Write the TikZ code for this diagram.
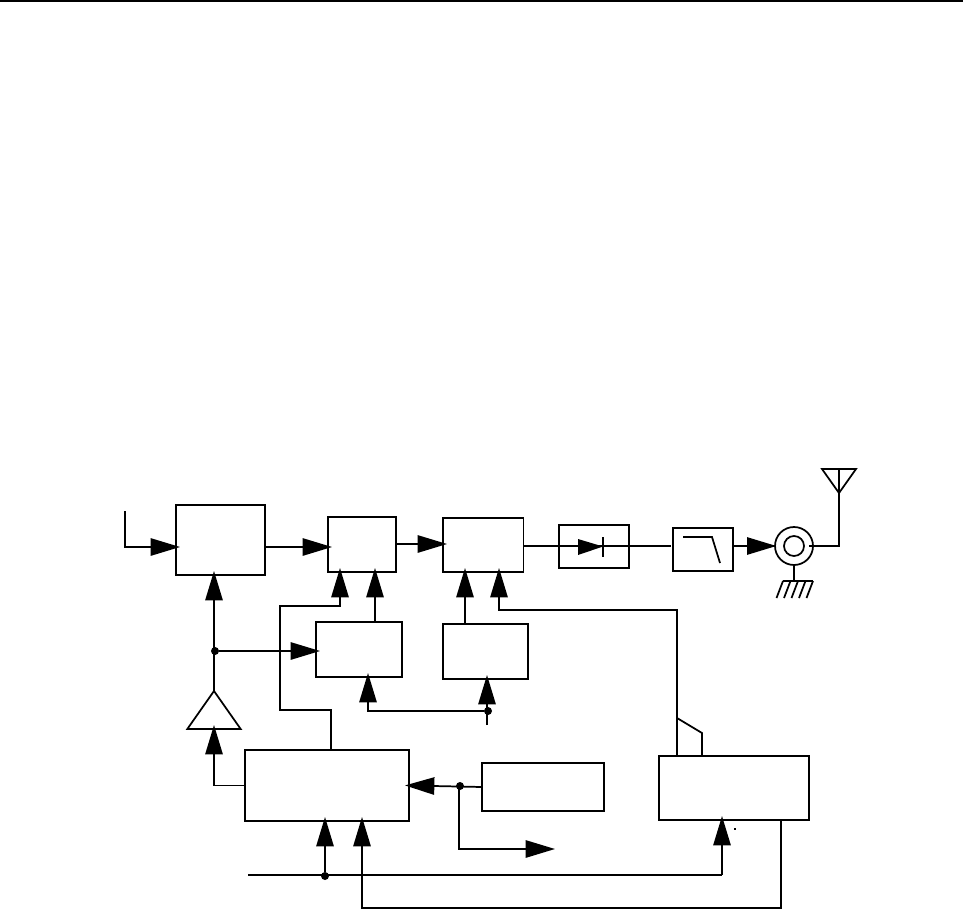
\documentclass[tikz,border=0pt]{standalone}
\usetikzlibrary{arrows.meta,calc,shapes.geometric}

\tikzset{
  blk/.style 2 args={draw,line width=1.3pt,inner sep=0pt,outer sep=0pt,minimum width=#1*.75pt,minimum height=#2*.75pt},
  sig/.style={line width=1.3pt,-{Triangle[length=22pt,width=13pt]},shorten >=-3pt},
  wire/.style={line width=1.3pt},
  jct/.style={circle,fill=black,inner sep=0pt,minimum size=6pt}
}

\begin{document}
\begin{tikzpicture}[x=.75pt,y=-.75pt]
\useasboundingbox (0,0) rectangle (963,909);
\draw[wire] (0,1) -- (963,1);
% boxes
\node[blk={89}{70}] (modbox) at (220.5,540) {};
\node[blk={68}{55}] (mixbox) at (362,544.5) {};
\node[blk={80.5}{54}] (ampbox) at (483.25,545) {};
\node[blk={70}{43}] (diodebox) at (594,546.5) {};
\node[blk={60}{43}] (lpfbox) at (703,549.5) {};
\node[blk={86}{55}] (loabox) at (359,649.5) {};
\node[blk={85}{55}] (lobbox) at (485.5,651.5) {};
\node[blk={164}{71}] (ctrlbox) at (327,785.5) {};
\node[blk={122}{48}] (refbox) at (543,787) {};
\node[blk={150}{64}] (detbox) at (734,788) {};
\node[draw,line width=1.3pt,isosceles triangle,isosceles triangle stretches,shape border rotate=90,
  minimum width=40pt,minimum height=28.5pt,inner sep=0pt,outer sep=0pt,anchor=apex] (drvtri) at (214,691) {};
\node[draw,line width=1.3pt,isosceles triangle,isosceles triangle stretches,shape border rotate=-90,
  minimum width=25.5pt,minimum height=18pt,inner sep=0pt,outer sep=0pt,anchor=apex] (anttri) at (839,493) {};
\node[draw,circle,line width=1.3pt,minimum size=28.5pt,inner sep=0pt,outer sep=0pt] (coaxout) at (794,546) {};
\node[draw,circle,line width=1.3pt,minimum size=15pt,inner sep=0pt,outer sep=0pt] (coaxin) at (794,546) {};
% junctions
\node[jct] (jdrv) at (215,651) {};
\node[jct] (jlo) at (488,711) {};
\node[jct] (jref) at (460,786) {};
\node[jct] (jbus) at (325,876) {};
\coordinate (insig) at (125,511);
\coordinate (buslft) at (248,875);
\coordinate (refout) at (551,849);
\coordinate (lotail) at (487,725);
\coordinate (gndbar) at (794,581);
\node[fill=black,inner sep=0pt,minimum size=1.2pt] (speck) at (735,829) {};
% top chain
\draw[sig] (insig) |- (modbox.west |- 0,547);
\draw[sig] (modbox.east |- 0,547) -- (mixbox.west |- 0,547);
\draw[sig] (mixbox.east |- 0,544) -- (ampbox.west |- 0,544);
\draw[wire] (ampbox.east |- 0,546) -- (671,546);
\fill (578,539) -- (603,546.5) -- (578,555) -- cycle;
\draw[wire] (603,537) -- (603,557);
\draw[wire] (683,537) -- (712,537) -- (720,563);
\draw[sig,shorten >=-1pt] (lpfbox.east |- coaxout) -- (coaxout.west);
\draw[wire] (809,546) -- (anttri.apex |- coaxout) -- (anttri.apex);
\draw[wire] (anttri.apex) -- (anttri.apex |- 0,469);
% ground
\draw[wire] (coaxout.south) -- (gndbar);
\draw[wire] (783,581) -- (813,581);
\foreach \gx in {783,790.5,798,805.5,813}{
  \draw[wire] (\gx,581) -- ++(-6.5,17);
}
% driver
\draw[sig] (drvtri.apex) -- (drvtri.apex |- modbox.south);
\draw[sig] (jdrv) -- (loabox.west |- jdrv);
\draw[sig] (ctrlbox.west) -- (drvtri.apex |- ctrlbox.west) -- (drvtri.apex |- drvtri.left corner);
% mixer inputs
\draw[sig] (375,0 |- loabox.north) -- (375,0 |- mixbox.south);
\draw[wire] (331,0 |- ctrlbox.north) |- (280,710) -- (280,606) -| (340,600);
\draw[sig] (340,606) -- (340,0 |- mixbox.south);
\draw[sig] (465,0 |- lobbox.north) -- (465,0 |- ampbox.south);
\draw[sig] (677,0 |- detbox.north) |- (499,610) -- (499,0 |- ampbox.south);
\draw[wire] (677,718) -- (702,733) -- (702,0 |- detbox.north);
% lo feed
\draw[sig] (jlo) -| (368,0 |- loabox.south);
\draw[sig] (lotail) -- (lotail |- lobbox.south);
% reference
\draw[sig] (refbox.west) -- (ctrlbox.east);
\draw[sig] (459,786) |- (refout);
% control bus
\draw[wire] (buslft) -- (722,875);
\draw[sig] (722,875) -- (722,0 |- detbox.south);
\draw[sig] (jbus) -- (jbus |- ctrlbox.south);
\draw[sig] (781,0 |- detbox.south) |- (362,908) -- (362,0 |- ctrlbox.south);
\end{tikzpicture}
\end{document}
